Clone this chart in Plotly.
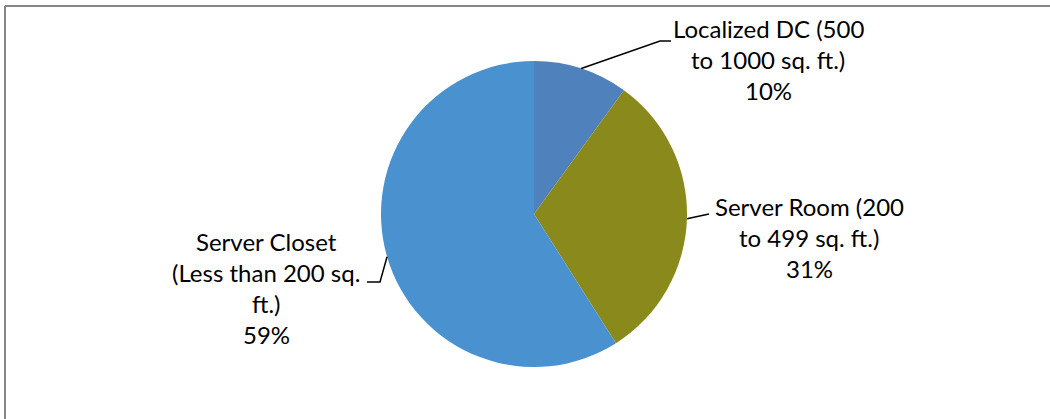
import math
import plotly.graph_objects as go

# Share of facilities by server space size
categories = [
    "Localized DC (500 to 1000 sq. ft.)",
    "Server Room (200 to 499 sq. ft.)",
    "Server Closet (Less than 200 sq. ft.)",
]
label_lines = [
    ["Localized DC (500", "to 1000 sq. ft.)"],
    ["Server Room (200", "to 499 sq. ft.)"],
    ["Server Closet", "(Less than 200 sq.", "ft.)"],
]
values = [10, 31, 59]
colors = ["#4F81BD", "#8A891C", "#4A91D0"]

W, H = 1050, 419
CX, CY, R = 534, 214, 153  # pie centre and radius in pixels


def px(x):
    return x / W


def py(y):
    return 1 - y / H


fig = go.Figure(
    go.Pie(
        labels=categories,
        values=values,
        sort=False,
        direction="clockwise",
        rotation=0,
        marker=dict(colors=colors, line=dict(width=0)),
        textinfo="none",
        hoverinfo="label+percent",
        showlegend=False,
        domain=dict(x=[px(CX - R), px(CX + R)], y=[py(CY + R), py(CY - R)]),
    )
)

# label block centres (pixels) and elbow / end points of the leader lines
label_pos = [(768, 59), (809, 237), (266, 288)]
leader_bends = [[(660, 41), (671, 41)], [(709, 214)], [(380, 282), (367, 282)]]

total = sum(values)
cum = 0
shapes = []
annotations = []
FONT = dict(family="Lato, 'Open Sans', sans-serif", size=24, color="#000000")
for i, v in enumerate(values):
    mid = (cum + v / 2) / total * 2 * math.pi
    cum += v
    sx = CX + R * math.sin(mid)
    sy = CY - R * math.cos(mid)
    pts = [(sx, sy)] + leader_bends[i]
    path = "M " + " L ".join(f"{px(x):.5f},{py(y):.5f}" for x, y in pts)
    shapes.append(dict(type="path", path=path, xref="paper", yref="paper",
                       line=dict(color="#000000", width=1.5)))
    pct = round(v / total * 100)
    lines = label_lines[i] + [f"{pct}%"]
    lx, ly = label_pos[i]
    n = len(lines)
    step = 31
    for k, t in enumerate(lines):
        yk = ly + (k - (n - 1) / 2) * step
        annotations.append(dict(text=t, x=px(lx), y=py(yk), xref="paper", yref="paper",
                                xanchor="center", yanchor="middle", showarrow=False,
                                font=FONT))

# chart frame (top and left edges)
frame = dict(color="#868686", width=2)
shapes.append(dict(type="line", xref="paper", yref="paper", x0=px(5), y0=py(6), x1=1, y1=py(6), line=frame))
shapes.append(dict(type="line", xref="paper", yref="paper", x0=px(5), y0=py(6), x1=px(5), y1=0, line=frame))

fig.update_layout(
    width=W, height=H,
    margin=dict(l=0, r=0, t=0, b=0),
    paper_bgcolor="white", plot_bgcolor="white",
    shapes=shapes, annotations=annotations,
)

fig.write_html("out.html")
